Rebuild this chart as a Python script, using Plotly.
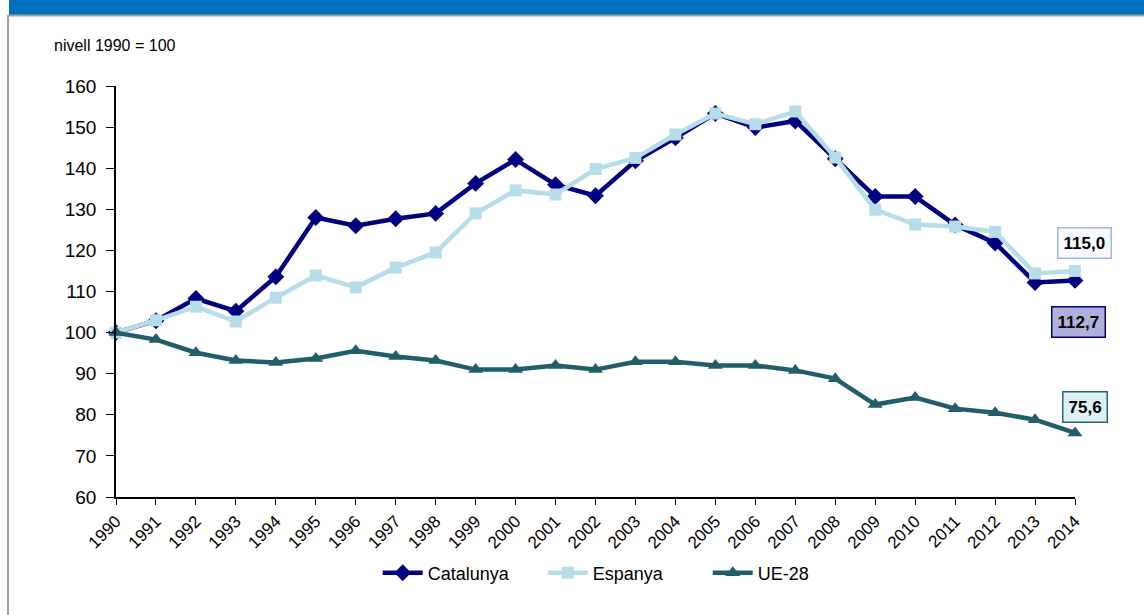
import plotly.graph_objects as go

years = list(range(1990, 2015))
catalunya = [100.0, 102.9, 108.3, 105.2, 113.6, 128.0, 126.0, 127.7, 129.0, 136.3,
             142.1, 136.0, 133.3, 141.8, 147.4, 153.3, 149.9, 151.5, 142.3, 133.1,
             133.1, 126.2, 121.8, 112.2, 112.7]
espanya = [100.0, 103.0, 106.3, 102.7, 108.5, 113.9, 111.0, 115.8, 119.5, 129.0,
           134.6, 133.6, 139.8, 142.5, 148.2, 153.3, 150.7, 153.8, 142.6, 129.9,
           126.3, 125.8, 124.5, 114.4, 115.0]
ue28 = [100.0, 98.3, 95.1, 93.2, 92.7, 93.7, 95.6, 94.2, 93.2, 91.0,
        91.0, 92.0, 91.0, 92.9, 92.9, 92.0, 92.0, 90.8, 88.8, 82.5,
        84.2, 81.5, 80.5, 78.8, 75.6]

C_CAT = "#000080"
C_ESP = "#B7DDE8"
C_UE = "#215E6A"

fig = go.Figure()
fig.add_trace(go.Scatter(x=years, y=catalunya, name="Catalunya", mode="lines+markers",
                         line=dict(color=C_CAT, width=4.5),
                         marker=dict(symbol="diamond", size=13, color=C_CAT), cliponaxis=False))
fig.add_trace(go.Scatter(x=years, y=espanya, name="Espanya", mode="lines+markers",
                         line=dict(color=C_ESP, width=4.5),
                         marker=dict(symbol="square", size=12, color=C_ESP), cliponaxis=False))
fig.add_trace(go.Scatter(x=years, y=ue28, name="UE-28", mode="lines+markers",
                         line=dict(color=C_UE, width=4.5),
                         marker=dict(symbol="triangle-up", size=13, color=C_UE), cliponaxis=False))

font = "Liberation Sans, Arial, sans-serif"

def lab(text, y, bg, border, xpx):
    return dict(x=years[-1], y=y, text="<b>%s</b>" % text, showarrow=False,
                xanchor="center", yanchor="middle", xshift=xpx,
                font=dict(family=font, size=17, color="black"),
                bgcolor=bg, bordercolor=border, borderwidth=1.5, borderpad=5)

fig.update_layout(
    width=1144, height=615,
    margin=dict(l=116, r=69, t=86, b=118),
    paper_bgcolor="white", plot_bgcolor="white",
    font=dict(family=font, color="black"),
    showlegend=True,
    legend=dict(orientation="h", x=0.531, xanchor="center", y=-0.185, yanchor="middle",
                font=dict(family=font, size=18), itemwidth=40, tracegroupgap=0,
                entrywidthmode="pixels", entrywidth=110),
    xaxis=dict(range=[1990, 2014], tickmode="array", tickvals=years,
               ticktext=[str(y) for y in years], tickangle=-45,
               ticks="outside", ticklen=6, tickcolor="black",
               showline=True, linecolor="black", linewidth=1.5,
               showgrid=False, zeroline=False,
               tickfont=dict(family=font, size=17)),
    yaxis=dict(range=[60, 160], dtick=10, ticks="outside", ticklen=8, tickcolor="black",
               showline=True, linecolor="black", linewidth=1.5,
               showgrid=False, zeroline=False, ticklabelstandoff=6,
               tickfont=dict(family=font, size=19)),
    annotations=[
        lab("115,0", 121.8, "#F8F9FE", "#9DB8E0", 9),
        lab("112,7", 102.6, "#B0B0DD", "#000080", 3),
        lab("75,6", 81.9, "#DDF0F4", "#2E6670", 10),
        dict(text="nivell 1990 = 100", xref="paper", yref="paper",
             x=(52 - 116) / 959, y=(497 - 45) / 411, xanchor="left", yanchor="middle",
             showarrow=False, font=dict(family=font, size=16, color="black")),
    ],
    shapes=[
        dict(type="rect", xref="paper", yref="paper",
             x0=(9 - 116) / 959, x1=1.1, y0=(497 - 15) / 411, y1=1.25,
             fillcolor="#0070C0", line=dict(width=0), layer="above"),
        dict(type="line", xref="paper", yref="paper",
             x0=(8 - 116) / 959, x1=1.1, y0=(497 - 15.5) / 411, y1=(497 - 15.5) / 411,
             line=dict(color="#A0A0A0", width=2)),
        dict(type="line", xref="paper", yref="paper",
             x0=(8 - 116) / 959, x1=(8 - 116) / 959, y0=-0.5, y1=(497 - 15) / 411,
             line=dict(color="#A0A0A0", width=2)),
    ],
)

fig.write_html("out.html", config={"displayModeBar": False},
               post_script="document.body.style.margin='0';")
